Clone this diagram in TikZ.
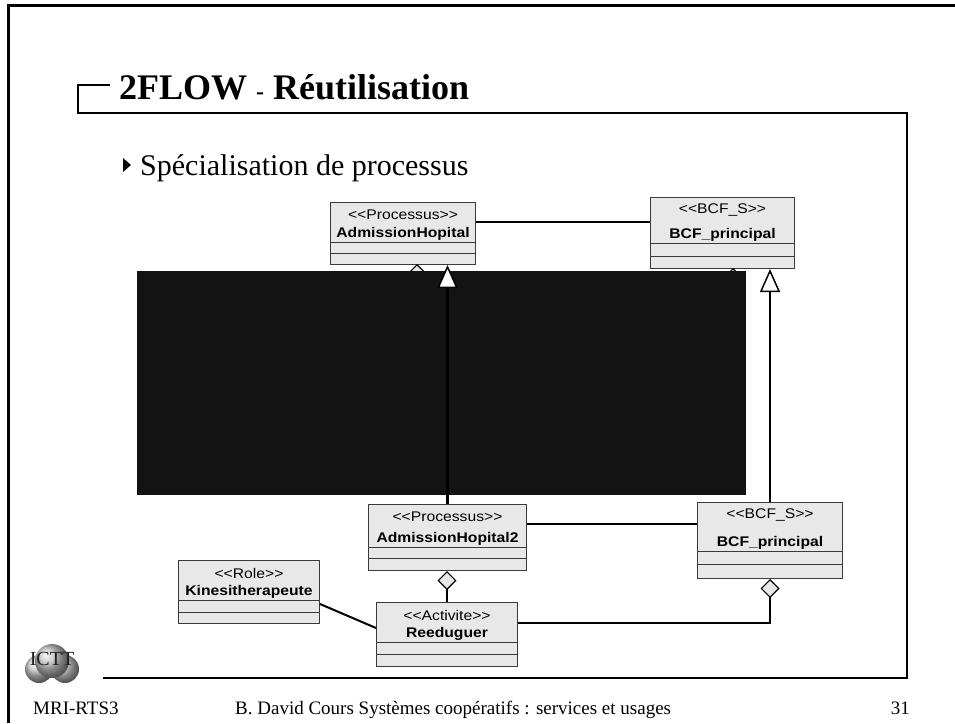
\documentclass[tikz,border=0pt]{standalone}
\usepackage{fontspec}
\setmainfont{Liberation Serif}
\newfontfamily\umlfont{Liberation Sans}[FakeStretch=1.12]
\usetikzlibrary{arrows.meta,shapes.geometric}

\definecolor{boxgray}{HTML}{E8E8E8}
\definecolor{edgegray}{HTML}{3A3A3A}
\definecolor{hidden}{HTML}{131313}

% class box: name, x, y (top left), width, height, line 1, line 2, stereotype, class name
\newcommand\umlclass[9]{%
  \node[class box,minimum width=#4pt,minimum height=#5pt] (#1) at (#2,#3) {};
  \draw[class line] ([yshift=-#6pt]#1.north west) -- ([yshift=-#6pt]#1.north east);
  \draw[class line] ([yshift=-#7pt]#1.north west) -- ([yshift=-#7pt]#1.north east);
  \node[stereo] (#1 s) at ([yshift=-13pt]#1.north) {\textless\textless #8\textgreater\textgreater};
  \node[class name] (#1 n) at ([yshift=-#6pt+8pt]#1.north) {#9};
}

\begin{document}
\begin{tikzpicture}[x=1pt,y=-1pt,>=Stealth,
    class box/.style={draw=edgegray,line width=1pt,fill=boxgray,anchor=north west,inner sep=0pt},
    class line/.style={draw=edgegray,line width=1pt},
    stereo/.style={font=\umlfont\fontsize{14}{15}\selectfont,inner sep=0pt},
    class name/.style={font=\umlfont\bfseries\fontsize{14}{15}\selectfont,inner sep=0pt},
    assoc/.style={line width=2pt},
    general/.style={-{Triangle[open,fill=white,length=23pt,width=20pt,line width=1.5pt]}},
    aggr/.style={{Diamond[fill=boxgray,length=19pt,width=19pt,line width=1.2pt]}-},
    frame/.style={line width=2pt}]
  \useasboundingbox (0,0) rectangle (955,723);
  \fill[white] (0,0) rectangle (955,723);
  % slide border
  \draw[line width=3pt] (8.5,723) -- (8.5,5) -- (955,5);
  \draw[frame] (110,85) -- (78,85) -- (78,113) -- (907,113) -- (907,678) -- (103,678);
  \node[anchor=base west,inner sep=0pt,font=\bfseries\fontsize{36}{40}\selectfont] (title) at (119,99)
    {2FLOW {\fontsize{24}{28}\selectfont -} Réutilisation};
  \fill (123,158) -- (131,165) -- (123,172) -- cycle;
  \node[anchor=base west,inner sep=0pt,font=\fontsize{30}{32}\selectfont] (point) at (140,175)
    {Spécialisation de processus};

  % classes
  \umlclass{ah}{330}{202}{145}{62}{40}{51}{Processus}{AdmissionHopital}
  \umlclass{bcf}{650}{197}{144}{71}{46}{59}{BCF\_S}{BCF\_principal}
  \umlclass{ah2}{368}{504}{158}{66}{43}{54}{Processus}{AdmissionHopital2}
  \umlclass{bcf2}{697}{502}{145}{76}{49}{62}{BCF\_S}{BCF\_principal}
  \umlclass{kine}{178}{560}{141}{63}{40}{52}{Role}{Kinesitherapeute}
  \umlclass{reed}{376}{602}{141}{64}{40}{52}{Activite}{Reeduguer}

  % links under the masked part
  \node[diamond,fill=boxgray,draw,line width=1.2pt,minimum width=19pt,minimum height=19pt,
    inner sep=0pt,anchor=north] (d1) at (417,264) {};
  \node[diamond,fill=boxgray,draw,line width=1.2pt,minimum width=19pt,minimum height=19pt,
    inner sep=0pt,anchor=north] (d2) at (733,268) {};
  \fill[hidden] (137,271) rectangle (746,495);

  % links
  \draw[assoc] ([yshift=-20pt]ah.north east) -- ([yshift=-20pt]ah.north east -| bcf.west);
  \draw[assoc,line width=3pt,general] (ah2.north) -- (ah2.north |- ah.south);
  \draw[assoc,general] (bcf2.north) -- (bcf2.north |- bcf.south);
  \draw[assoc] ([yshift=-20pt]ah2.north east) -- ([yshift=-20pt]ah2.north east -| bcf2.west);
  \draw[assoc,aggr] (reed.north |- ah2.south) -- (reed.north);
  \draw[assoc] ([yshift=-44pt]kine.north east) -- ([yshift=-26pt]reed.north west);
  \draw[assoc,aggr] (bcf2.south) |- ([yshift=-21pt]reed.north east);

  % logo
  \shade[ball color=gray!45] (39,669) circle (14);
  \shade[ball color=gray!45] (65,669) circle (14);
  \shade[ball color=gray!45] (52,661) circle (17);
  \node[text=gray!25!black,font=\fontsize{20}{20}\selectfont,inner sep=0pt] (logo) at (52,659) {ICTT};

  % footer
  \node[anchor=base west,inner sep=0pt,font=\fontsize{19}{20}\selectfont] (ref) at (33,714) {MRI-RTS3};
  \node[anchor=base west,inner sep=0pt,font=\fontsize{19}{20}\selectfont] (course) at (235,714)
    {B. David Cours Systèmes coopératifs : services et usages};
  \node[anchor=base east,inner sep=0pt,font=\fontsize{19}{20}\selectfont] (page) at (910,714) {31};
\end{tikzpicture}
\end{document}
